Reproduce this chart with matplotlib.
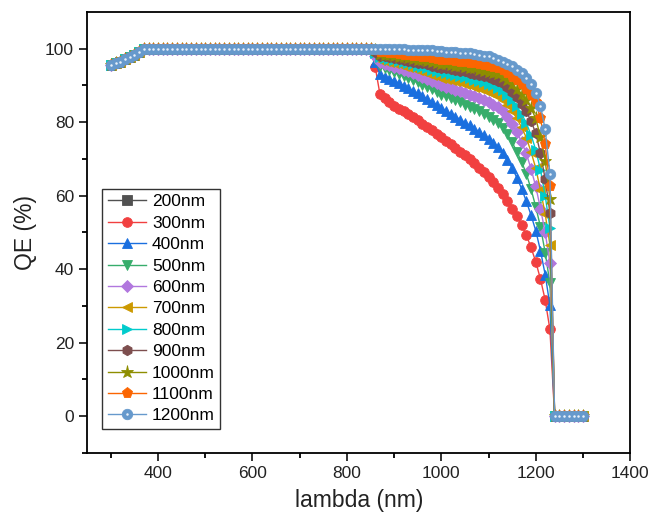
import numpy as np
import matplotlib
matplotlib.use("Agg")
import matplotlib.pyplot as plt

plt.rcParams['font.family'] = ['Liberation Sans', 'DejaVu Sans']

# ----------------------------
# Wavelength grid (nm), 10 nm steps
# ----------------------------
wl_uv = [300, 310, 320, 330, 340, 350, 360, 370]
wl_flat = list(range(380, 860, 10))
wl_edge = list(range(860, 1240, 10))
wl_zero = [1240, 1250, 1260, 1270, 1280, 1290, 1300]
wavelength = wl_uv + wl_flat + wl_edge + wl_zero

# short-wavelength rise, common to every thickness
qe_uv = [95.5, 96.0, 96.5, 97.1, 97.7, 98.3, 99.0, 100.0]
qe_flat = [100.0] * len(wl_flat)
qe_zero = [0.0] * len(wl_zero)

# ----------------------------
# QE (%) from 860 to 1230 nm for each absorber thickness
# ----------------------------
edge_200 = []
edge_300 = [95.0, 87.6, 86.5, 85.5, 84.5, 83.7, 82.9, 82.1, 81.3, 80.5,
            79.6, 78.7, 77.8, 76.9, 76.0, 75.0, 74.0, 73.0, 72.0, 71.0,
            69.9, 68.8, 67.6, 66.3, 65.0, 63.6, 62.1, 60.4, 58.5, 56.5,
            54.4, 52.0, 49.3, 45.9, 42.0, 37.3, 31.6, 23.6]
edge_400 = [96.4, 93.0, 92.4, 91.8, 91.2, 90.6, 89.9, 89.2, 88.5, 87.8,
            87.1, 86.3, 85.5, 84.7, 83.8, 83.1, 82.3, 81.5, 80.7, 79.9,
            79.1, 78.2, 77.4, 76.5, 75.5, 74.4, 73.2, 71.6, 69.8, 67.5,
            64.9, 61.9, 58.5, 54.7, 50.5, 45.0, 38.5, 30.2]
edge_500 = [97.3, 95.2, 94.7, 94.2, 93.7, 93.2, 92.6, 92.0, 91.4, 90.8,
            90.2, 89.6, 88.9, 88.2, 87.5, 87.0, 86.5, 85.9, 85.4, 84.8,
            84.2, 83.6, 82.9, 82.2, 81.5, 80.7, 79.7, 78.5, 76.7, 74.5,
            72.0, 69.2, 66.0, 61.8, 57.0, 51.5, 44.5, 36.2]
edge_600 = [98.0, 96.3, 95.9, 95.5, 95.1, 94.7, 94.3, 93.8, 93.3, 92.8,
            92.3, 91.7, 91.2, 90.6, 90.0, 89.6, 89.2, 88.8, 88.4, 88.0,
            87.5, 87.0, 86.5, 86.0, 85.5, 84.8, 84.0, 82.9, 81.4, 79.5,
            77.3, 74.6, 71.5, 67.3, 62.5, 56.5, 50.0, 41.6]
edge_700 = [98.5, 97.0, 96.7, 96.4, 96.1, 95.8, 95.4, 95.0, 94.6, 94.2,
            93.8, 93.4, 92.9, 92.5, 92.0, 91.7, 91.4, 91.1, 90.8, 90.4,
            90.0, 89.6, 89.2, 88.8, 88.3, 87.7, 87.0, 86.1, 84.8, 83.0,
            81.0, 78.6, 75.8, 71.9, 67.5, 61.5, 55.0, 46.6]
edge_800 = [98.9, 97.6, 97.4, 97.1, 96.8, 96.6, 96.3, 96.0, 95.7, 95.3,
            95.0, 94.6, 94.3, 93.9, 93.6, 93.3, 93.0, 92.8, 92.5, 92.2,
            91.9, 91.6, 91.3, 90.9, 90.5, 90.0, 89.4, 88.7, 87.5, 86.0,
            84.3, 82.2, 79.8, 76.5, 72.5, 67.0, 60.0, 51.2]
edge_900 = [99.2, 98.1, 97.9, 97.7, 97.5, 97.2, 97.0, 96.7, 96.5, 96.2,
            96.0, 95.7, 95.4, 95.1, 94.8, 94.6, 94.4, 94.2, 94.0, 93.8,
            93.5, 93.2, 92.9, 92.6, 92.2, 91.8, 91.3, 90.7, 89.6, 88.3,
            86.8, 85.0, 83.0, 80.3, 77.0, 71.5, 64.5, 55.4]
edge_1000 = [99.5, 98.6, 98.4, 98.2, 98.0, 97.8, 97.6, 97.4, 97.2, 97.0,
             96.8, 96.6, 96.4, 96.1, 95.9, 95.7, 95.5, 95.3, 95.2, 95.0,
             94.8, 94.6, 94.3, 94.0, 93.7, 93.4, 93.0, 92.4, 91.5, 90.3,
             89.0, 87.6, 86.0, 83.8, 81.0, 76.0, 69.5, 59.2]
edge_1100 = [99.7, 99.1, 99.0, 98.8, 98.7, 98.5, 98.4, 98.2, 98.1, 97.9,
             97.7, 97.6, 97.4, 97.2, 97.0, 96.9, 96.8, 96.7, 96.5, 96.4,
             96.2, 96.0, 95.8, 95.6, 95.3, 95.0, 94.7, 94.2, 93.4, 92.3,
             91.4, 90.3, 89.0, 87.5, 85.5, 81.0, 74.0, 62.7]
edge_1200 = [100.0, 99.9, 99.9, 99.9, 99.8, 99.8, 99.8, 99.7, 99.7, 99.6,
             99.6, 99.5, 99.5, 99.4, 99.3, 99.2, 99.1, 99.0, 98.9, 98.8,
             98.7, 98.5, 98.3, 98.1, 97.9, 97.5, 97.0, 96.5, 95.9, 95.2,
             94.3, 93.3, 92.0, 90.3, 88.0, 84.5, 78.0, 66.0]

labels = ["200nm", "300nm", "400nm", "500nm", "600nm", "700nm",
          "800nm", "900nm", "1000nm", "1100nm", "1200nm"]
edges = [edge_200, edge_300, edge_400, edge_500, edge_600, edge_700,
         edge_800, edge_900, edge_1000, edge_1100, edge_1200]
colors = ['#515151', '#F14040', '#1A6FDF', '#37AD6B', '#B177DE', '#CC9900',
          '#00CBCC', '#7D4E4E', '#8E8E00', '#FB6501', '#6699CC']
markers = ['s', 'o', '^', 'v', 'D', '<', '>', 'h', '*', 'p', 'o']
msizes = [7, 7, 7.5, 7.5, 6, 7.5, 7.5, 7.5, 9.5, 8, 7.5]

# ----------------------------
# Plot
# ----------------------------
fig = plt.figure(figsize=(6.51, 5.17), dpi=100)
ax = fig.add_axes([0.134, 0.124, 0.834, 0.853])

handles = []
for lab, edge, c, m, ms in zip(labels, edges, colors, markers, msizes):
    if edge:
        x = wavelength
        y = qe_uv + qe_flat + edge + qe_zero
    else:
        x, y = [], []
    line, = ax.plot(x, y, color=c, marker=m, markersize=ms, linewidth=1.0,
                    markeredgecolor=c, markeredgewidth=0.6, label=lab)
    if lab == "1200nm":
        # small highlight on the sphere symbol
        shine, = ax.plot(x, y, linestyle='none', marker='o', markersize=1.8,
                         color='#e8f0fa', markeredgewidth=0)
        handles.append((line, shine))
    else:
        handles.append(line)

ax.set_xlim(250, 1400)
ax.set_ylim(-10, 110)
ax.set_xticks([400, 600, 800, 1000, 1200, 1400])
ax.set_xticks(np.arange(300, 1400, 200), minor=True)
ax.set_yticks([0, 20, 40, 60, 80, 100])
ax.set_yticks([-10, 10, 30, 50, 70, 90], minor=True)
ax.tick_params(which='major', direction='out', length=6, width=1.3,
               labelsize=12.5, colors='#222222', labelcolor='#222222')
ax.tick_params(which='minor', direction='out', length=3.5, width=1.3)
for s in ax.spines.values():
    s.set_linewidth(1.3)

ax.set_xlabel("lambda (nm)", fontsize=16.5, color='#222222', labelpad=6)
ax.set_ylabel("QE (%)", fontsize=16.5, color='#222222', labelpad=6)

leg = ax.legend(handles, labels, loc='lower left', bbox_to_anchor=(0.028, 0.055),
                fontsize=12.5, frameon=True, fancybox=False, edgecolor='#333333',
                framealpha=1, handlelength=2.2, handletextpad=0.35,
                labelspacing=0.36, borderpad=0.3, borderaxespad=0)
leg.get_frame().set_linewidth(1.0)

fig.savefig("out.png", dpi=100)
